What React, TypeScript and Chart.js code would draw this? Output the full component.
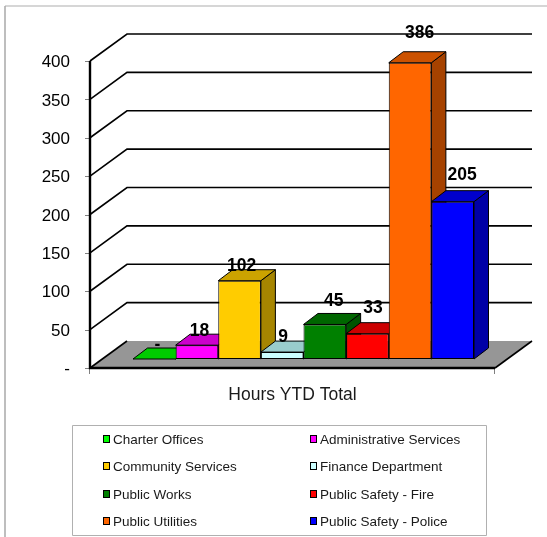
import { useEffect, useRef } from "react";
import { Chart, registerables } from "chart.js";

Chart.register(...registerables);

const categories = ["Hours YTD Total"];
const departments = [
  "Charter Offices",
  "Administrative Services",
  "Community Services",
  "Finance Department",
  "Public Works",
  "Public Safety - Fire",
  "Public Utilities",
  "Public Safety - Police",
];
const hours = [0, 18, 102, 9, 45, 33, 386, 205];
const valueLabels = ["-", "18", "102", "9", "45", "33", "386", "205"];
const tickValues = [0, 50, 100, 150, 200, 250, 300, 350, 400];
const frontColors = ["#00FF00", "#FF00FF", "#FFCC00", "#CCFFFF", "#008000", "#FF0000", "#FF6600", "#0000FF"];
const topColors = ["#00CC00", "#CC00CC", "#CCA300", "#99CCCC", "#006600", "#CC0000", "#CC5200", "#0000CC"];
const sideColors = ["#00A600", "#A600A6", "#A68500", "#85A6A6", "#005300", "#A60000", "#A64200", "#0000A6"];
const labelNudgeX = [3, 2.5, 2, 1, 9, 5.5, 9.5, 9.5];
const labelNudgeY = [-14, -14.5, -14.5, -14.5, -23.5, -25.5, -30, -26.5];

const FONT = '"Liberation Sans", Arial, sans-serif';
const WALL_DX = 37;
const WALL_DY = -27;
const PLANE_DX = 11;
const PLANE_DY = -9;
const BAR_DX = 14.5;
const BAR_DY = -11;

function quad(ctx: CanvasRenderingContext2D, pts: number[][], fill: string, stroke = "#000", lw = 1) {
  ctx.beginPath();
  pts.forEach(([x, y], i) => (i ? ctx.lineTo(x, y) : ctx.moveTo(x, y)));
  ctx.closePath();
  ctx.fillStyle = fill;
  ctx.fill();
  if (lw > 0) {
    ctx.lineWidth = lw;
    ctx.strokeStyle = stroke;
    ctx.stroke();
  }
}

const scene3d = {
  id: "scene3d",
  afterUpdate(chart: any) {
    chart.scales.y.getLabelItems().forEach((it: any) => {
      const [tx, ty] = it.options.translation;
      it.options.translation = [tx, ty + 1.5];
    });
  },
  beforeDraw(chart: any) {
    const { ctx, width, height } = chart;
    ctx.save();
    ctx.fillStyle = "#fff";
    ctx.fillRect(0, 0, width, height);
    ctx.strokeStyle = "#c8c8c8";
    ctx.lineWidth = 1.5;
    ctx.beginPath();
    ctx.moveTo(width, 6);
    ctx.lineTo(5, 6);
    ctx.stroke();
    ctx.strokeStyle = "#a8a8a8";
    ctx.beginPath();
    ctx.moveTo(5, 6);
    ctx.lineTo(5, height);
    ctx.stroke();
    ctx.restore();
  },
  // The bars of a 3D column chart overlap left to right, the reverse of
  // Chart.js's own drawing order, so the datasets are painted from here.
  beforeDatasetsDraw(chart: any) {
    const { ctx, chartArea: a, scales } = chart;
    const y0 = scales.y.getPixelForValue(0);
    ctx.save();
    quad(ctx, [
      [a.left, y0],
      [a.right, y0],
      [a.right + WALL_DX, y0 + WALL_DY],
      [a.left + WALL_DX, y0 + WALL_DY],
    ], "#969696", "#000", 0);

    ctx.strokeStyle = "#808080";
    ctx.lineWidth = 1;
    ctx.beginPath();
    tickValues.forEach((v) => {
      const y = Math.round(scales.y.getPixelForValue(v)) + 0.5;
      ctx.moveTo(a.left - 5, y);
      ctx.lineTo(a.left, y);
    });
    [a.left, a.right].forEach((x) => {
      ctx.moveTo(x - 0.5, y0);
      ctx.lineTo(x - 0.5, y0 + 6);
    });
    ctx.stroke();

    ctx.strokeStyle = "#000";
    ctx.lineWidth = 1.6;
    tickValues.forEach((v) => {
      const y = scales.y.getPixelForValue(v);
      ctx.beginPath();
      ctx.moveTo(a.left, y);
      ctx.lineTo(a.left + WALL_DX, y + WALL_DY);
      if (v > 0) ctx.lineTo(a.right + WALL_DX, y + WALL_DY);
      ctx.stroke();
    });
    ctx.beginPath();
    ctx.moveTo(a.right, y0);
    ctx.lineTo(a.right + WALL_DX, y0 + WALL_DY);
    ctx.stroke();
    ctx.lineWidth = 2.4;
    ctx.beginPath();
    ctx.moveTo(a.left, a.top);
    ctx.lineTo(a.left, y0);
    ctx.lineTo(a.right, y0);
    ctx.stroke();
    ctx.restore();

    chart.getSortedVisibleDatasetMetas().forEach((meta: any) => {
      const i = meta.index;
      const bar = meta.data[0];
      const l = bar.x - bar.width / 2;
      const r = bar.x + bar.width / 2;
      const t = bar.y;
      const b = bar.base;
      ctx.save();
      ctx.translate(PLANE_DX, PLANE_DY);
      quad(ctx, [[r, t], [r + BAR_DX, t + BAR_DY], [r + BAR_DX, b + BAR_DY], [r, b]], sideColors[i]);
      quad(ctx, [[l, t], [r, t], [r + BAR_DX, t + BAR_DY], [l + BAR_DX, t + BAR_DY]], topColors[i]);
      if (hours[i] > 0) meta.controller.draw();
      ctx.restore();
    });

    ctx.save();
    ctx.textAlign = "center";
    ctx.textBaseline = "middle";
    ctx.fillStyle = "#000";
    ctx.font = `bold 17.5px ${FONT}`;
    chart.getSortedVisibleDatasetMetas().forEach((meta: any) => {
      const i = meta.index;
      const bar = meta.data[0];
      ctx.fillText(
        valueLabels[i],
        bar.x + PLANE_DX + labelNudgeX[i],
        bar.y + PLANE_DY + labelNudgeY[i],
      );
    });
    ctx.restore();
    return false;
  },
  afterDraw(chart: any) {
    const { ctx } = chart;
    ctx.save();
    ctx.fillStyle = "#fff";
    ctx.strokeStyle = "#b0b0b0";
    ctx.lineWidth = 1;
    ctx.beginPath();
    ctx.rect(72.5, 425.5, 414, 110);
    ctx.fill();
    ctx.stroke();
    ctx.font = `13.5px ${FONT}`;
    ctx.textAlign = "left";
    ctx.textBaseline = "middle";
    chart.data.datasets.forEach((d: any, i: number) => {
      const col = i % 2;
      const row = Math.floor(i / 2);
      const sx = col ? 310.5 : 103.5;
      const cy = 440 + row * 27.4;
      const top = Math.round(cy) - 4.5;
      ctx.fillStyle = d.backgroundColor;
      ctx.strokeStyle = "#000";
      ctx.fillRect(sx, top, 6, 7);
      ctx.strokeRect(sx, top, 6, 7);
      ctx.fillStyle = "#1a1a1a";
      ctx.fillText(d.label, col ? 320 : 113, cy);
    });
    ctx.restore();
  },
};

export default function App() {
  const ref = useRef<HTMLCanvasElement>(null);
  useEffect(() => {
    const chart = new Chart(ref.current!, {
      type: "bar",
      plugins: [scene3d],
      data: {
        labels: categories,
        datasets: departments.map((label, i) => ({
          label,
          data: [hours[i]],
          backgroundColor: frontColors[i],
          borderColor: "#000",
          borderWidth: 1,
          borderSkipped: false,
          barPercentage: 1,
          categoryPercentage: 341 / 405,
        })),
      },
      options: {
        animation: false,
        responsive: false,
        layout: { autoPadding: false, padding: { left: 0, top: 61, right: 52, bottom: 0 } },
        plugins: { legend: { display: false }, title: { display: false }, tooltip: { enabled: false } },
        scales: {
          x: {
            afterFit: (s: any) => { s.height = 169; },
            grid: { display: false },
            border: { display: false },
            ticks: { color: "#1a1a1a", padding: 9, font: { family: FONT, size: 17.5 } },
          },
          y: {
            min: 0,
            max: 400,
            afterFit: (s: any) => { s.width = 90; },
            afterBuildTicks: (s: any) => { s.ticks = tickValues.map((value) => ({ value })); },
            grid: { display: false },
            border: { display: false },
            ticks: {
              color: "#000",
              padding: 12,
              font: { family: FONT, size: 17 },
              callback: (v: any) => (v === 0 ? "-" : String(v)),
            },
          },
        },
      } as any,
    });
    return () => chart.destroy();
  }, []);
  return (
    <canvas
      ref={ref}
      width={547}
      height={537}
      style={{ position: "fixed", left: 0, top: 0, width: 547, height: 537, display: "block" }}
    />
  );
}
